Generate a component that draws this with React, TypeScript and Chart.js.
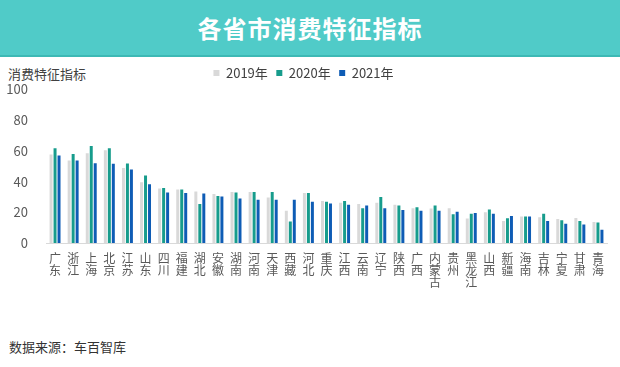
import React, { useEffect, useRef } from "react";
import { Chart, registerables } from "chart.js";

Chart.register(...registerables);

const categories = ["广东","浙江","上海","北京","江苏","山东","四川","福建","湖北","安徽","湖南","河南","天津","西藏","河北","重庆","江西","云南","辽宁","陕西","广西","内蒙古","贵州","黑龙江","山西","新疆","海南","吉林","宁夏","甘肃","青海"];
const v2019 = [57.6,53.7,58.5,60.4,48.8,39.5,35.5,34.8,33.5,32,33.3,33.3,29.7,21,32.5,27.3,26.2,25.4,26.2,24.9,22.7,22.4,22.7,15.9,20,14.4,17.2,16.8,15.7,16.3,13.7];
const v2020 = [61.7,58,63.2,61.7,51.8,43.9,35.9,34.8,25.4,30.7,32.9,33.3,33.3,14,32.5,26.8,27.3,22.6,29.9,24.5,23.3,24.4,18.7,19.1,21.9,16.1,17.2,19.1,14.8,14.4,13.3];
const v2021 = [57,53.7,52,51.6,47.9,38.3,32.9,32.5,32.3,30.3,29,28.1,28.1,28.1,26.8,25.8,24.9,24.5,22.6,21.5,21,21,20.4,19.5,19.1,17.6,17.2,14.4,12.5,12,8.6];
const seriesNames = ["2019年","2020年","2021年"];
const yTicks = [0,20,40,60,80,100];

const FONT = "'Noto Sans CJK SC', 'Noto Sans', sans-serif";

export default function App() {
  const ref = useRef<HTMLCanvasElement | null>(null);
  useEffect(() => {
    if (!ref.current) return;
    const chart = new Chart(ref.current, {
      type: "bar",
      data: {
        labels: categories.map((c) => c.split("")),
        datasets: [
          { label: seriesNames[0], data: v2019, backgroundColor: "#D9D9D9" },
          { label: seriesNames[1], data: v2020, backgroundColor: "#179C8C" },
          { label: seriesNames[2], data: v2021, backgroundColor: "#0E5CB5" },
        ],
      },
      options: {
        animation: false,
        responsive: true,
        maintainAspectRatio: false,
        layout: { padding: { left: 0, right: 13, top: 0, bottom: 0 } },
        datasets: { bar: { categoryPercentage: 0.66, barPercentage: 0.75 } },
        plugins: {
          legend: {
            display: true,
            position: "top",
            labels: {
              boxWidth: 6,
              boxHeight: 6,
              padding: 8.5,
              color: "#404040",
              font: { family: FONT, size: 13 },
            },
          },
          tooltip: { enabled: false },
        },
        scales: {
          x: {
            grid: { display: false, drawTicks: false },
            border: { display: true, color: "#D9D9D9", width: 1 },
            ticks: {
              autoSkip: false,
              maxRotation: 0,
              minRotation: 0,
              padding: 9,
              color: "#595959",
              font: { family: FONT, size: 12, lineHeight: 1.0 },
            },
            afterFit: (scale: any) => { scale.height = 85; },
          },
          y: {
            min: 0,
            max: 100,
            afterBuildTicks: (scale: any) => { scale.ticks = yTicks.map((v) => ({ value: v })); },
            grid: { display: false, drawTicks: false },
            border: { display: false },
            ticks: {
              padding: 18,
              color: "#595959",
              font: { family: FONT, size: 13 },
            },
            afterFit: (scale: any) => { scale.width = 46; },
          },
        },
      },
    });
    return () => chart.destroy();
  }, []);

  return (
    <div style={{ position: "absolute", left: 0, top: 0, width: 620, height: 367, background: "#fff", fontFamily: FONT, overflow: "hidden" }}>
      <div style={{ position: "absolute", left: 0, top: 0, width: 620, height: 55, background: "#50CBC8", borderBottom: "2px solid #3DB9B5", color: "#fff", fontWeight: 700, fontSize: 24, lineHeight: "55px", textAlign: "center", letterSpacing: 1 }}>
        各省市消费特征指标
      </div>
      <div style={{ position: "absolute", left: 8, top: 65, fontSize: 13, color: "#404040", lineHeight: "18px" }}>消费特征指标</div>
      <div style={{ position: "absolute", left: 0, top: 58, width: 620, height: 270 }}>
        <canvas ref={ref} />
      </div>
      <div style={{ position: "absolute", left: 9, top: 338, fontSize: 13, color: "#333", lineHeight: "18px" }}>数据来源：车百智库</div>
    </div>
  );
}
